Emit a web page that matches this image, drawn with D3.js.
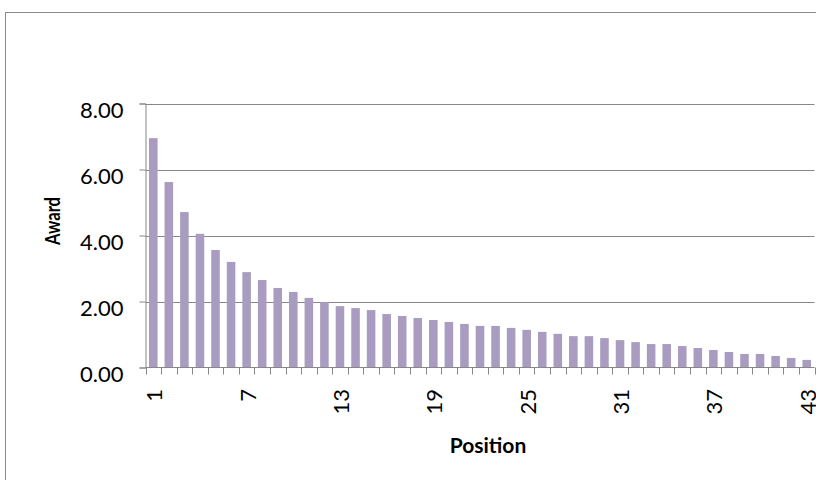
<!DOCTYPE html>
<html>
<head>
<meta charset="utf-8">
<script src="https://cdn.jsdelivr.net/npm/d3@7"></script>
<style>
  html, body { margin: 0; padding: 0; background: #fff; }
  svg { display: block; }
  text { font-family: Lato, "Open Sans", sans-serif; fill: #000; }
</style>
</head>
<body>
<svg id="chart" width="816" height="480"></svg>
<script>
const positions = d3.range(1, 44);
const awards = [6.95, 5.62, 4.71, 4.05, 3.56, 3.20, 2.89, 2.65, 2.41, 2.29,
                2.11, 1.98, 1.86, 1.80, 1.74, 1.62, 1.56, 1.50, 1.44, 1.38,
                1.32, 1.26, 1.26, 1.20, 1.14, 1.08, 1.02, 0.95, 0.95, 0.89,
                0.83, 0.77, 0.71, 0.71, 0.65, 0.59, 0.53, 0.47, 0.41, 0.41,
                0.35, 0.29, 0.23];
const yTicks = [0, 2, 4, 6, 8];
const xTickLabels = [1, 7, 13, 19, 25, 31, 37, 43];

const svg = d3.select("#chart");
const margin = { left: 145.5, top: 103.5 };
const plotRight = 814.5;

// chart frame
svg.append("rect")
  .attr("x", 5.5).attr("y", 12.5)
  .attr("width", 900).attr("height", 600)
  .attr("fill", "none").attr("stroke", "#8a8a8a").attr("stroke-width", 1);

const x = d3.scaleBand()
  .domain(positions)
  .range([margin.left, plotRight])
  .paddingInner(0.45)
  .paddingOuter(0.225);

const y = d3.scaleLinear()
  .domain([0, 8])
  .range([367.5, 103.5]);

// gridlines
svg.append("g")
  .selectAll("line")
  .data(yTicks.filter(d => d > 0))
  .join("line")
  .attr("x1", margin.left).attr("x2", plotRight)
  .attr("y1", d => Math.round(y(d)) + 0.5).attr("y2", d => Math.round(y(d)) + 0.5)
  .attr("stroke", "#878787").attr("stroke-width", 1);

// bars
svg.append("g")
  .selectAll("rect")
  .data(positions)
  .join("rect")
  .attr("x", d => x(d))
  .attr("width", x.bandwidth())
  .attr("y", (d, i) => y(awards[i]))
  .attr("height", (d, i) => y(0) - y(awards[i]))
  .attr("fill", "#a99cc0");

// y axis
const yAxis = d3.axisLeft(y)
  .tickValues(yTicks)
  .tickFormat(d3.format(".2f"))
  .tickSize(6)
  .tickPadding(16);
const gy = svg.append("g")
  .attr("transform", `translate(${margin.left},0)`)
  .call(yAxis);
gy.select(".domain").attr("stroke", "#878787");
gy.selectAll(".tick line").attr("stroke", "#878787");
gy.selectAll(".tick text")
  .attr("font-size", 22)
  .attr("font-family", "Lato, 'Open Sans', sans-serif")
  .attr("dy", "0.62em")
  .attr("fill", "#000");

// x axis: ticks at category boundaries
const boundaries = positions.map(p => x(p) - x.step() * x.paddingInner() / 2)
  .concat([plotRight]);
svg.append("line")
  .attr("x1", margin.left).attr("x2", plotRight)
  .attr("y1", y(0)).attr("y2", y(0))
  .attr("stroke", "#878787");
svg.append("g")
  .selectAll("line")
  .data(boundaries)
  .join("line")
  .attr("x1", d => Math.round(d) + 0.5).attr("x2", d => Math.round(d) + 0.5)
  .attr("y1", y(0)).attr("y2", y(0) + 7)
  .attr("stroke", "#878787");

svg.append("g")
  .selectAll("text")
  .data(xTickLabels)
  .join("text")
  .attr("transform", d => `translate(${x(d) + x.bandwidth() / 2 + 1},389) rotate(-90)`)
  .attr("text-anchor", "end")
  .attr("dy", "0.36em")
  .attr("font-size", 22)
  .text(d => d);

// axis titles
svg.append("text")
  .attr("transform", "translate(60,221) rotate(-90)")
  .attr("text-anchor", "middle")
  .attr("font-weight", "bold")
  .attr("font-size", 20)
  .attr("textLength", 48)
  .attr("lengthAdjust", "spacingAndGlyphs")
  .text("Award");

svg.append("text")
  .attr("x", 488).attr("y", 453)
  .attr("text-anchor", "middle")
  .attr("font-weight", "bold")
  .attr("font-size", 21)
  .text("Position");
</script>
</body>
</html>
